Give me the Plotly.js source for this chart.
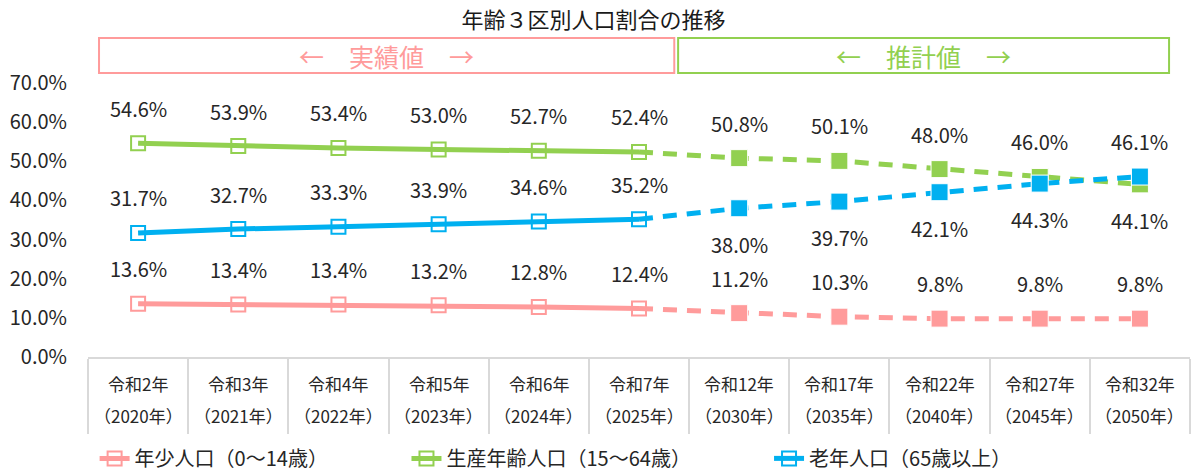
<!DOCTYPE html>
<html>
<head>
<meta charset="utf-8">
<script src="https://cdn.plot.ly/plotly-3.0.1.min.js"></script>
<style>html,body{margin:0;padding:0;background:#fff;}#chart{width:1192px;height:473px;}</style>
</head>
<body>
<div id="chart"></div>
<script>
// ---- data ----
const eraLabels = ['令和2年','令和3年','令和4年','令和5年','令和6年','令和7年','令和12年','令和17年','令和22年','令和27年','令和32年'];
const adLabels = ['（2020年）','（2021年）','（2022年）','（2023年）','（2024年）','（2025年）','（2030年）','（2035年）','（2040年）','（2045年）','（2050年）'];
const young = [13.6, 13.4, 13.4, 13.2, 12.8, 12.4, 11.2, 10.3, 9.8, 9.8, 9.8];
const working = [54.6, 53.9, 53.4, 53.0, 52.7, 52.4, 50.8, 50.1, 48.0, 46.0, 44.1];
const elderly = [31.7, 32.7, 33.3, 33.9, 34.6, 35.2, 38.0, 39.7, 42.1, 44.3, 46.1];
const actualCount = 6; // 令和2年〜令和7年 are actual values
const seriesNames = ['年少人口（0～14歳）', '生産年齢人口（15～64歳）', '老年人口（65歳以上）'];
const youngLabelSide = ['up','up','up','up','up','up','up','up','up','up','up'];
const workingLabelSide = ['up','up','up','up','up','up','up','up','up','up','down'];
const elderlyLabelSide = ['up','up','up','up','up','up','down','down','down','down','up'];

// ---- styles ----
const FONT = '"Noto Sans CJK JP", "Noto Sans", sans-serif';
const TXT = '#262626';
const colors = ['#FF9B9B', '#92D050', '#00B0F0'];
const allSeries = [young, working, elderly];
const sides = [youngLabelSide, workingLabelSide, elderlyLabelSide];
const legendIds = ['legend', 'legend2', 'legend3'];

const traces = [];
const annotations = [];

allSeries.forEach((vals, s) => {
  const c = colors[s];
  // projection (dashed) from last actual point onward
  const px = eraLabels.slice(actualCount - 1);
  const py = vals.slice(actualCount - 1);
  traces.push({
    x: px, y: py, type: 'scatter', mode: 'lines+markers',
    line: {color: c, width: 5, dash: '14px,10px'},
    marker: {symbol: 'square', size: px.map((_, i) => i === 0 ? 0 : 17), color: c, opacity: 1},
    showlegend: false, hoverinfo: 'skip'
  });
  // actual (solid, open squares)
  traces.push({
    x: eraLabels.slice(0, actualCount), y: vals.slice(0, actualCount),
    type: 'scatter', mode: 'lines+markers', name: seriesNames[s],
    legend: legendIds[s],
    line: {color: c, width: 5},
    marker: {symbol: 'square-open', size: 14, color: c, opacity: 1, line: {width: 2, color: c}},
    showlegend: true
  });
  // data labels
  vals.forEach((v, i) => {
    annotations.push({
      x: eraLabels[i], y: v, xref: 'x', yref: 'y',
      text: v.toFixed(1) + '%', showarrow: false,
      yshift: sides[s][i] === 'up' ? 35 : -36,
      font: {family: FONT, size: 20, color: TXT}
    });
  });
});

// x category labels (two lines)
eraLabels.forEach((lab, i) => {
  annotations.push({x: lab, y: -0.095, xref: 'x', yref: 'paper', text: lab, showarrow: false,
    yanchor: 'middle', font: {family: FONT, size: 17, color: TXT}});
  annotations.push({x: lab, y: -0.212, xref: 'x', yref: 'paper', text: adLabels[i], showarrow: false,
    yanchor: 'middle', font: {family: FONT, size: 17, color: TXT}});
});

// period boxes text
annotations.push({x: 0.271, y: 1.1, xref: 'paper', yref: 'paper', text: '←　実績値　→', showarrow: false,
  xanchor: 'center', yanchor: 'middle', font: {family: FONT, size: 25, color: '#FF9B9B'}});
annotations.push({x: 0.758, y: 1.1, xref: 'paper', yref: 'paper', text: '←　推計値　→', showarrow: false,
  xanchor: 'center', yanchor: 'middle', font: {family: FONT, size: 25, color: '#92D050'}});

const shapes = [
  {type: 'rect', xref: 'paper', yref: 'paper', x0: 0.010, x1: 0.532, y0: 1.0365, y1: 1.164,
   line: {color: '#FF9B9B', width: 2}, fillcolor: 'rgba(0,0,0,0)'},
  {type: 'rect', xref: 'paper', yref: 'paper', x0: 0.5355, x1: 0.981, y0: 1.0365, y1: 1.164,
   line: {color: '#92D050', width: 2}, fillcolor: 'rgba(0,0,0,0)'}
];

const legendBase = {orientation: 'h', yanchor: 'middle', y: -0.37, xanchor: 'left',
  font: {family: FONT, size: 20, color: TXT}, bgcolor: 'rgba(0,0,0,0)', itemwidth: 30};

const layout = {
  width: 1192, height: 473,
  margin: {l: 88, r: 2, t: 83, b: 116, autoexpand: false},
  paper_bgcolor: '#fff', plot_bgcolor: '#fff',
  title: {text: '年齢３区別人口割合の推移', x: 0.498, xref: 'container', xanchor: 'center',
    y: 0.957, yref: 'container', yanchor: 'middle', font: {family: FONT, size: 22, color: '#1a1a1a'}},
  xaxis: {type: 'category', categoryorder: 'array', categoryarray: eraLabels,
    range: [-0.5, eraLabels.length - 0.5], showgrid: false, zeroline: false,
    showline: true, linecolor: '#d9d9d9', linewidth: 2,
    ticks: 'outside', tickson: 'boundaries', ticklen: 75, tickcolor: '#d9d9d9', tickwidth: 2,
    showticklabels: false, fixedrange: true},
  yaxis: {range: [0, 70], dtick: 10, tick0: 0, showgrid: false, zeroline: false, showline: false,
    ticks: 'outside', ticklen: 16, tickcolor: 'rgba(0,0,0,0)',
    tickformat: '.1f', ticksuffix: '%',
    tickfont: {family: FONT, size: 20, color: TXT}, fixedrange: true},
  showlegend: true,
  legend: Object.assign({}, legendBase, {x: 0.006}),
  legend2: Object.assign({}, legendBase, {x: 0.289}),
  legend3: Object.assign({}, legendBase, {x: 0.618}),
  annotations: annotations,
  shapes: shapes
};

Plotly.newPlot('chart', traces, layout, {displayModeBar: false, staticPlot: true});
</script>
</body>
</html>
